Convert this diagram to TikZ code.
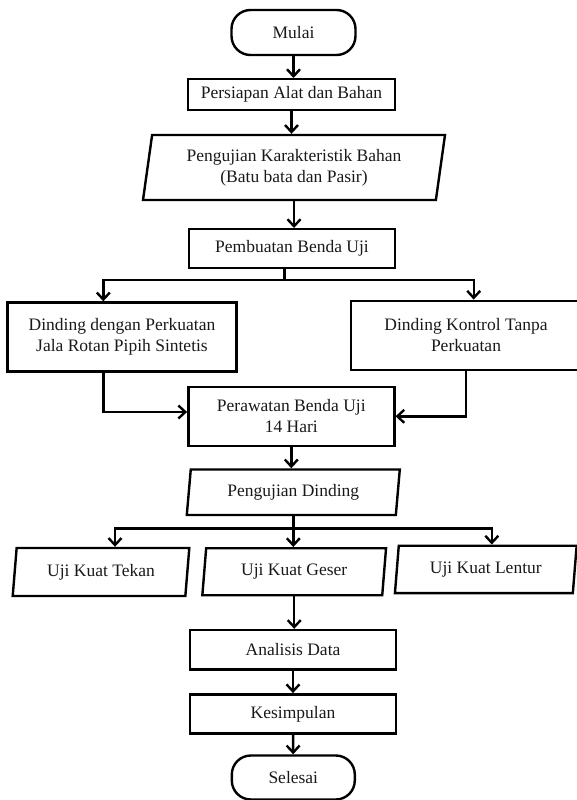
\documentclass[tikz,border=0pt]{standalone}
\usepackage{fontspec}
\setmainfont{Liberation Serif}
\usetikzlibrary{shapes.geometric,arrows.meta,calc}
\begin{document}
\begin{tikzpicture}[x=1pt,y=1pt,
  every node/.style={font=\fontsize{17.5}{20.7}\selectfont, align=center, inner sep=0pt, text=black!90},
  box/.style={draw, line width=2.4pt, rectangle},
  term/.style={draw, line width=2.4pt, rectangle, rounded corners=19pt},
  io/.style={draw, line width=2.4pt, trapezium, trapezium left angle=76, trapezium right angle=104, trapezium stretches body},
  arr/.style={line width=2.4pt, -{Straight Barb[length=7pt,width=13pt]}},
  ln/.style={line width=2.4pt}]
\useasboundingbox (0,0) rectangle (577,-800);

\node[term, minimum width=124pt, minimum height=45pt] (mulai) at (293.5,-32.5) {Mulai};
\node[box, minimum width=207pt, minimum height=31pt] (persiapan) at (291.5,-94.7) {Persiapan Alat dan Bahan};
\node[io, minimum width=302pt, minimum height=65pt] (p1) at (294,-167.5) {Pengujian Karakteristik Bahan\\(Batu bata dan Pasir)};
\node[box, minimum width=206pt, minimum height=39pt] (pembuatan) at (292,-248.7) {Pembuatan Benda Uji};
\node[box, minimum width=229pt, minimum height=69pt] (kiri) at (122,-337) {Dinding dengan Perkuatan\\Jala Rotan Pipih Sintetis};
\node[box, minimum width=230pt, minimum height=69pt] (kanan) at (466,-335.3) {Dinding Kontrol Tanpa\\Perkuatan};
\node[box, minimum width=206pt, minimum height=59pt] (rawat) at (291.3,-416.3) {Perawatan Benda Uji\\14 Hari};
\node[io, minimum width=213pt, minimum height=45.5pt] (p2) at (293.3,-492.2) {Pengujian Dinding};
\node[io, minimum width=176.6pt, minimum height=48pt] (tekan) at (101,-572) {Uji Kuat Tekan};
\node[io, minimum width=183.7pt, minimum height=47pt] (geser) at (294.2,-571.7) {Uji Kuat Geser};
\node[io, minimum width=181.7pt, minimum height=47.3pt] (lentur) at (485.8,-569.4) {Uji Kuat Lentur};
\node[box, minimum width=206pt, minimum height=39.3pt] (analisis) at (293,-649.7) {Analisis Data};
\node[box, minimum width=206pt, minimum height=39pt] (kesimpulan) at (293,-713.8) {Kesimpulan};
\node[term, minimum width=123pt, minimum height=44pt] (selesai) at (293.3,-777.5) {Selesai};

\draw[arr] (mulai.south) -- (mulai.south |- persiapan.north);
\draw[arr] (persiapan.south) -- (persiapan.south |- p1.north);
\draw[arr] (p1.south) -- (p1.south |- pembuatan.north);

\coordinate (j1) at (284.5,-280);
\draw[ln] (pembuatan.south -| j1) -- (j1);
\draw[arr] (j1) -| ([xshift=-18.7pt]kiri.north);
\draw[arr] (j1) -| ([xshift=7.7pt]kanan.north);

\draw[arr] ([xshift=-18.7pt]kiri.south) |- ([yshift=4.3pt]rawat.west);
\draw[arr] (kanan.south) |- (rawat.east);
\draw[arr] (rawat.south) -- (rawat.south |- p2.north);

\coordinate (j2) at ($(p2.south)+(0,-12.5)$);
\draw[arr] (p2.south) -- (p2.south |- geser.north);
\draw[arr] (j2) -| ([xshift=14pt]tekan.north);
\draw[arr] (j2) -| ([xshift=6pt]lentur.north);

\draw[arr] (geser.south) -- (geser.south |- analisis.north);
\draw[arr] (analisis) -- (kesimpulan);
\draw[arr] (kesimpulan) -- (selesai);
\end{tikzpicture}
\end{document}
